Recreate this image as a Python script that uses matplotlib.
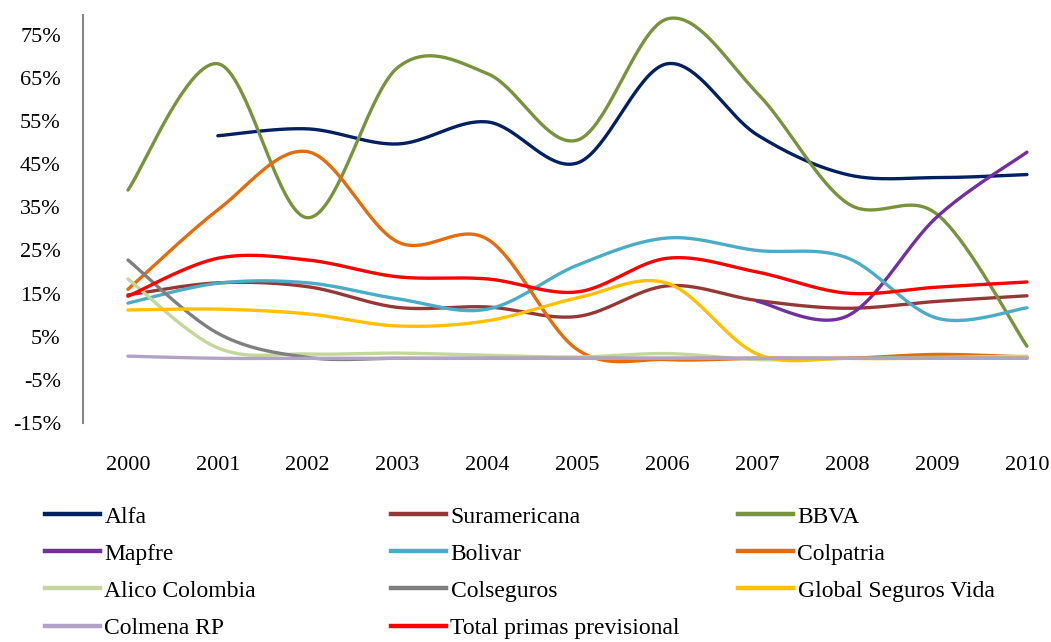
import matplotlib
matplotlib.use("Agg")
import matplotlib.pyplot as plt
from matplotlib.lines import Line2D
import numpy as np

plt.rcParams['font.family'] = ['Liberation Serif', 'DejaVu Serif']

years = [2000, 2001, 2002, 2003, 2004, 2005, 2006, 2007, 2008, 2009, 2010]
nan = np.nan

# participacion por compania (%)
alfa = [nan, 51.6, 53.2, 49.7, 54.8, 45.3, 68.3, 51.8, 42.6, 41.9, 42.6]
suramericana = [14.7, 17.5, 16.6, 11.8, 11.9, 9.7, 16.8, 13.4, 11.6, 13.2, 14.5]
bbva = [39.0, 68.3, 32.6, 67.4, 66.0, 50.6, 78.7, 61.5, 36.0, 33.4, 2.8]
mapfre = [nan, nan, nan, nan, nan, nan, nan, 13.2, 9.8, 32.8, 47.8]
bolivar = [12.8, 17.4, 17.5, 13.8, 11.4, 21.6, 27.9, 25.0, 23.3, 9.3, 11.7]
colpatria = [16.0, 34.4, 47.9, 27.0, 27.6, 2.0, -0.3, 0.0, 0.0, 0.9, 0.3]
alico = [18.4, 2.4, 1.0, 1.2, 0.7, 0.3, 1.1, -0.3, 0.0, 0.2, 0.5]
colseguros = [22.8, 5.8, 0.2, 0.0, 0.0, 0.0, 0.0, 0.0, 0.0, 0.0, 0.0]
global_vida = [11.2, 11.4, 10.3, 7.5, 8.7, 14.0, 17.4, 1.0, 0.0, 0.0, 0.0]
colmena = [0.5, 0.0, 0.0, 0.0, 0.0, 0.0, 0.0, 0.0, 0.0, 0.0, 0.0]
total = [14.4, 23.2, 22.8, 18.9, 18.4, 15.4, 23.2, 20.0, 15.1, 16.5, 17.7]

series = [
    ("Alfa", alfa, "#002060"),
    ("Suramericana", suramericana, "#953735"),
    ("BBVA", bbva, "#77933C"),
    ("Mapfre", mapfre, "#7030A0"),
    ("Bolivar", bolivar, "#4BACC6"),
    ("Colpatria", colpatria, "#E46C0A"),
    ("Alico Colombia", alico, "#C3D69B"),
    ("Colseguros", colseguros, "#7F7F7F"),
    ("Global Seguros Vida", global_vida, "#FFC000"),
    ("Colmena RP", colmena, "#B3A2C7"),
    ("Total primas previsional", total, "#FF0000"),
]


def smooth(xs, ys, n=40):
    # curva suavizada tipo Excel (bezier con puntos de control catmull-rom)
    x = np.asarray(xs, float)
    y = np.asarray(ys, float)
    ok = ~np.isnan(y)
    x, y = x[ok], y[ok]
    px = np.concatenate([[x[0]], x, [x[-1]]])
    py = np.concatenate([[y[0]], y, [y[-1]]])
    t = np.linspace(0, 1, n)
    outx, outy = [], []
    for i in range(1, len(px) - 2):
        p0x, p1x, p2x, p3x = px[i - 1], px[i], px[i + 1], px[i + 2]
        p0y, p1y, p2y, p3y = py[i - 1], py[i], py[i + 1], py[i + 2]
        c1x = p1x + (p2x - p0x) / 6
        c1y = p1y + (p2y - p0y) / 6
        c2x = p2x - (p3x - p1x) / 6
        c2y = p2y - (p3y - p1y) / 6
        bx = (1 - t) ** 3 * p1x + 3 * (1 - t) ** 2 * t * c1x + 3 * (1 - t) * t ** 2 * c2x + t ** 3 * p2x
        by = (1 - t) ** 3 * p1y + 3 * (1 - t) ** 2 * t * c1y + 3 * (1 - t) * t ** 2 * c2y + t ** 3 * p2y
        outx.extend(bx)
        outy.extend(by)
    return np.array(outx), np.array(outy)


fig = plt.figure(figsize=(10.51, 6.42), dpi=100)
left = 83 / 1051
bottom = 1 - 423 / 642
top = 1 - 15 / 642
ax = fig.add_axes([left, bottom, 1 - left, top - bottom])

handles = {}
for name, vals, col in series:
    sx, sy = smooth(years, vals)
    ax.plot(sx, sy, color=col, lw=2.4, solid_capstyle='round', label=name)
    handles[name] = Line2D([0], [0], color=col, lw=3.2)

ax.set_xlim(1999.5, 1999.5 + (1051 - 83) / 89.9)
ax.set_ylim(-15, 79.6)
ax.set_yticks(np.arange(-15, 76, 10))
ax.set_yticklabels([f"{v}%" for v in range(-15, 76, 10)])
ax.set_xticks(years)
ax.set_xticklabels([str(y) for y in years])
ax.tick_params(axis='both', length=0, labelsize=16, colors='black')
ax.tick_params(axis='y', pad=16)
ax.tick_params(axis='x', pad=24)
for s in ['top', 'right', 'bottom']:
    ax.spines[s].set_visible(False)
ax.spines['left'].set_color('#868686')
ax.spines['left'].set_linewidth(1.5)

# leyenda en tres columnas
cols = [
    (["Alfa", "Mapfre", "Alico Colombia", "Colmena RP"], 45),
    (["Suramericana", "Bolivar", "Colseguros", "Total primas previsional"], 391),
    (["BBVA", "Colpatria", "Global Seguros Vida"], 738),
]
for names, xpix in cols:
    fig.legend([handles[n] for n in names], names, loc='upper left',
               bbox_to_anchor=(xpix / 1051, 1 - 506 / 642), frameon=False,
               fontsize=17, handlelength=2.35, handletextpad=0.17,
               labelspacing=0.66, borderpad=0, borderaxespad=0)

fig.savefig("out.png", dpi=100)
